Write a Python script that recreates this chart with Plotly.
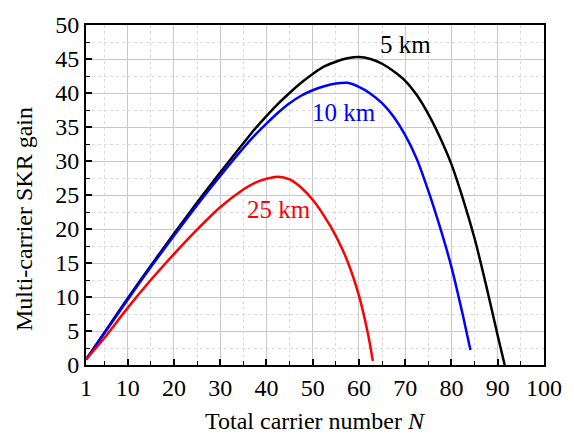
import plotly.graph_objects as go

# Data
n_5km = [1, 5, 10, 15, 20, 25, 30, 35, 37.5, 40, 42.5, 45, 47.5, 50, 52.5, 55, 57.5, 60, 62.5, 65, 67.5, 70, 72.5, 75, 77.5, 80, 82.5, 85, 87.5, 90, 91.5]
g_5km = [0.8, 4.8, 9.8, 14.6, 19.3, 23.9, 28.3, 32.6, 34.7, 36.6, 38.4, 40.0, 41.5, 42.8, 43.9, 44.6, 45.1, 45.3, 45.0, 44.3, 43.2, 41.8, 39.7, 36.9, 33.5, 29.5, 24.4, 18.6, 11.7, 4.3, 0.0]

n_10km = [1, 5, 10, 15, 20, 25, 30, 35, 37.5, 40, 42.5, 45, 47.5, 50, 52.5, 55, 57.5, 60, 62.5, 65, 67.5, 70, 72.5, 75, 77.5, 80, 82.5, 84.1]
g_10km = [0.8, 4.7, 9.6, 14.4, 19.0, 23.5, 27.8, 31.9, 33.8, 35.5, 37.1, 38.5, 39.6, 40.4, 41.0, 41.4, 41.5, 40.9, 39.9, 38.5, 36.5, 33.8, 30.3, 25.6, 20.3, 14.4, 7.2, 2.2]

n_25km = [1, 5, 10, 15, 20, 25, 30, 35, 37.5, 40, 42.5, 45, 47.5, 50, 52.5, 55, 57.5, 60, 62, 63]
g_25km = [0.8, 4.0, 8.4, 12.5, 16.3, 19.9, 23.2, 25.8, 26.8, 27.4, 27.7, 27.3, 26.1, 24.3, 21.9, 19.0, 15.3, 10.2, 4.4, 0.6]

labels = ["5 km", "10 km", "25 km"]
label_pos_x = [70.1, 56.8, 42.7]
label_pos_y = [47.1, 37.2, 22.9]
colors = ["#000000", "#0000ff", "#ff0000"]

x_ticks = [1, 10, 20, 30, 40, 50, 60, 70, 80, 90, 100]
x_minor = [5, 15, 25, 35, 45, 55, 65, 75, 85, 95]

FONT = "Liberation Serif, Times New Roman, serif"

fig = go.Figure()
for xs, ys, c in [(n_5km, g_5km, colors[0]), (n_10km, g_10km, colors[1]), (n_25km, g_25km, colors[2])]:
    fig.add_trace(go.Scatter(x=xs, y=ys, mode="lines",
                             line=dict(color=c, width=2.5, shape="spline", smoothing=0.6),
                             showlegend=False, hoverinfo="skip"))

for t, x, y, c in zip(labels, label_pos_x, label_pos_y, colors):
    fig.add_annotation(x=x, y=y, text=t, showarrow=False,
                       font=dict(family=FONT, size=25, color=c))

# axis titles as annotations for precise placement
fig.add_annotation(xref="paper", yref="paper", x=0.5, y=-0.165, yanchor="middle",
                   text="Total carrier number <i>N</i>", showarrow=False,
                   font=dict(family=FONT, size=24, color="black"))
fig.add_annotation(xref="paper", yref="paper", x=-0.135, y=0.43, xanchor="center",
                   yanchor="middle", textangle=-90,
                   text="Multi-carrier SKR gain", showarrow=False,
                   font=dict(family=FONT, size=24, color="black"))

fig.update_layout(
    width=574, height=437,
    margin=dict(l=85.5, r=20.5, t=17, b=72),
    paper_bgcolor="white", plot_bgcolor="white",
    font=dict(family=FONT, size=24, color="black"),
)
fig.update_xaxes(
    range=[1, 100], tickmode="array", tickvals=x_ticks,
    ticks="inside", ticklen=6, tickwidth=1.5, tickcolor="black",
    showline=True, linecolor="black", linewidth=2, mirror=True,
    showgrid=True, gridcolor="#c8c8c8", gridwidth=1,
    zeroline=False,
    tickfont=dict(family=FONT, size=24),
    minor=dict(tickmode="array", tickvals=x_minor, ticks="inside", ticklen=4,
               tickcolor="black", tickwidth=1.2, showgrid=True,
               gridcolor="#dcdcdc", griddash="dot", gridwidth=1),
)
fig.update_yaxes(
    range=[0, 50], tickmode="linear", tick0=0, dtick=5,
    ticks="inside", ticklen=6, tickwidth=1.5, tickcolor="black",
    showline=True, linecolor="black", linewidth=2, mirror=True,
    showgrid=True, gridcolor="#c8c8c8", gridwidth=1,
    zeroline=False,
    tickfont=dict(family=FONT, size=24),
    minor=dict(dtick=2.5, tick0=0, ticks="inside", ticklen=4,
               tickcolor="black", tickwidth=1.2, showgrid=True,
               gridcolor="#dcdcdc", griddash="dot", gridwidth=1),
)

fig.write_html("out.html")
